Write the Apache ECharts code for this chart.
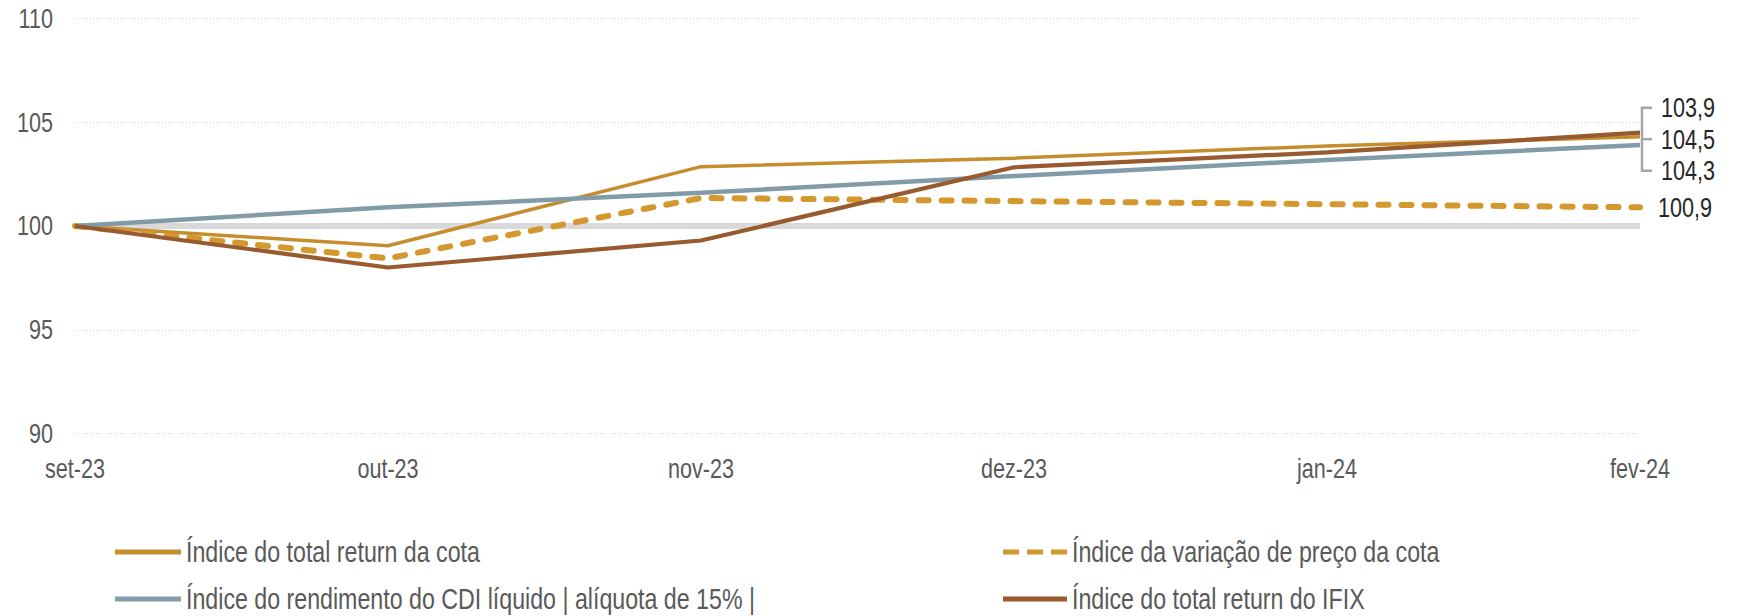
<!DOCTYPE html>
<html>
<head>
<meta charset="utf-8">
<script src="https://cdn.jsdelivr.net/npm/echarts@6/dist/echarts.min.js"></script>
<style>
  html, body { margin: 0; padding: 0; background: #fff; }
  #chart { width: 1744px; height: 616px; }
</style>
</head>
<body>
<div id="chart"></div>
<script>
// months on the x axis
var categories = ['set-23', 'out-23', 'nov-23', 'dez-23', 'jan-24', 'fev-24'];

// index values (base 100 = set-23)
var totalReturnCota = [100, 99.05, 102.86, 103.27, 103.86, 104.3];
var variacaoPreco = [100, 98.44, 101.35, 101.2, 101.05, 100.9];
var cdiLiquido = [100, 100.9, 101.6, 102.41, 103.18, 103.9];
var ifixTotal = [100, 98.0, 99.3, 102.83, 103.55, 104.5];

var names = [
  'Índice do total return da cota',
  'Índice da variação de preço da cota',
  'Índice do rendimento do CDI líquido | alíquota de 15% |',
  'Índice do total return do IFIX'
];

// y axis range
var yMin = 90, yMax = 110, yStep = 5;
var baseLine = 100;

var FONT = '"Liberation Sans Narrow", "Arial Narrow", "Liberation Sans", Arial, sans-serif';
var INK = '#595959';
var SQUEEZE = 0.8; // no narrow face installed: squeeze text horizontally

var colors = { cota: '#c58d2e', preco: '#d4982f', cdi: '#819ba8', ifix: '#985a2e' };

function fmt(v) { return v.toFixed(1).replace('.', ','); }

var chart = echarts.init(document.getElementById('chart'), null, { renderer: 'svg' });

function lineSeries(name, data, color, width, extra) {
  var s = {
    name: name,
    type: 'line',
    data: data,
    symbol: 'none',
    smooth: false,
    lineStyle: { color: color, width: width },
    itemStyle: { color: color },
    emphasis: { disabled: true }
  };
  for (var k in extra) s[k] = extra[k];
  return s;
}

// one legend per entry so the 2x2 block sits where the original has it
function legendItem(name, icon, left, top, width) {
  return {
    data: [{ name: name, icon: icon }],
    left: left, top: top,
    padding: 0,
    itemWidth: width, itemHeight: 5,
    selectedMode: false,
    textStyle: { color: INK, fontFamily: FONT, fontSize: 29, lineHeight: 34 }
  };
}
var dashIcon = 'path://M0,0h16v5h-16z M24,0h16v5h-16z M48,0h16v5h-16z';

chart.setOption({
  animation: false,
  textStyle: { fontFamily: FONT },
  grid: { left: 75, right: 104, top: 18.5, bottom: 182.5 },
  legend: [
    legendItem(names[0], 'rect', 115, 535, 66),
    legendItem(names[2], 'rect', 115, 582, 66),
    legendItem(names[1], dashIcon, 1003, 535, 64),
    legendItem(names[3], 'rect', 1003, 582, 64)
  ],
  xAxis: {
    type: 'category',
    data: categories,
    boundaryGap: false,
    axisLine: { show: false },
    axisTick: { show: false },
    axisLabel: { color: INK, fontFamily: FONT, fontSize: 27, margin: 22 }
  },
  yAxis: {
    type: 'value',
    min: yMin, max: yMax, interval: yStep,
    axisLine: { show: false },
    axisTick: { show: false },
    axisLabel: { color: INK, fontFamily: FONT, fontSize: 27, margin: 22 },
    splitLine: { lineStyle: { color: '#d0d0d0', type: [1, 2], width: 1 } }
  },
  series: [
    lineSeries(names[0], totalReturnCota, colors.cota, 3.5, {
      markLine: {
        silent: true,
        symbol: 'none',
        z: 1,
        label: { show: false },
        lineStyle: { color: '#d9d9d9', width: 6, type: 'solid' },
        data: [{ yAxis: baseLine }]
      }
    }),
    lineSeries(names[1], variacaoPreco, colors.preco, 6, {
      lineStyle: { color: colors.preco, width: 6, type: [10, 13], cap: 'round' },
      endLabel: {
        show: true,
        distance: 18,
        color: '#262626',
        fontFamily: FONT,
        fontSize: 27,
        formatter: function (p) { return fmt(p.value); }
      }
    }),
    lineSeries(names[2], cdiLiquido, colors.cdi, 4.5, {}),
    lineSeries(names[3], ifixTotal, colors.ifix, 4.2, {})
  ]
});

// bracket with the three final values grouped on the right
var last = categories.length - 1;
var grouped = [cdiLiquido[last], ifixTotal[last], totalReturnCota[last]];
var mean = (grouped[0] + grouped[1] + grouped[2]) / 3;
var pEnd = chart.convertToPixel({ xAxisIndex: 0, yAxisIndex: 0 }, [last, mean]);
var bx = pEnd[0] + 2, yc = pEnd[1] + 1, half = 31.5;
var bracketStyle = { stroke: '#a6a6a6', lineWidth: 2.5, fill: null };
var graphics = [
  { type: 'polyline', shape: { points: [[bx + 10, yc - half], [bx, yc - half], [bx, yc + half], [bx + 10, yc + half]] }, style: bracketStyle },
  { type: 'line', shape: { x1: bx, y1: yc, x2: bx + 10, y2: yc }, style: bracketStyle }
];
grouped.forEach(function (v, i) {
  graphics.push({
    type: 'text',
    x: bx + 19,
    y: yc + (i - 1) * half,
    style: {
      text: fmt(v),
      fill: '#262626',
      font: '27px ' + FONT,
      textVerticalAlign: 'middle'
    }
  });
});
chart.setOption({ graphic: graphics });

// squeeze every svg text around its own anchor point
function condense() {
  document.querySelectorAll('#chart svg text').forEach(function (t) {
    if (t.getAttribute('data-squeezed')) return;
    var x = parseFloat(t.getAttribute('x') || 0);
    var y = parseFloat(t.getAttribute('y') || 0);
    var tf = t.getAttribute('transform') || '';
    t.setAttribute('transform', tf + ' translate(' + x + ' ' + y + ') scale(' + SQUEEZE + ' 1) translate(' + (-x) + ' ' + (-y) + ')');
    t.setAttribute('data-squeezed', '1');
  });
}
condense();
chart.on('finished', condense);
setTimeout(condense, 50);
</script>
</body>
</html>
